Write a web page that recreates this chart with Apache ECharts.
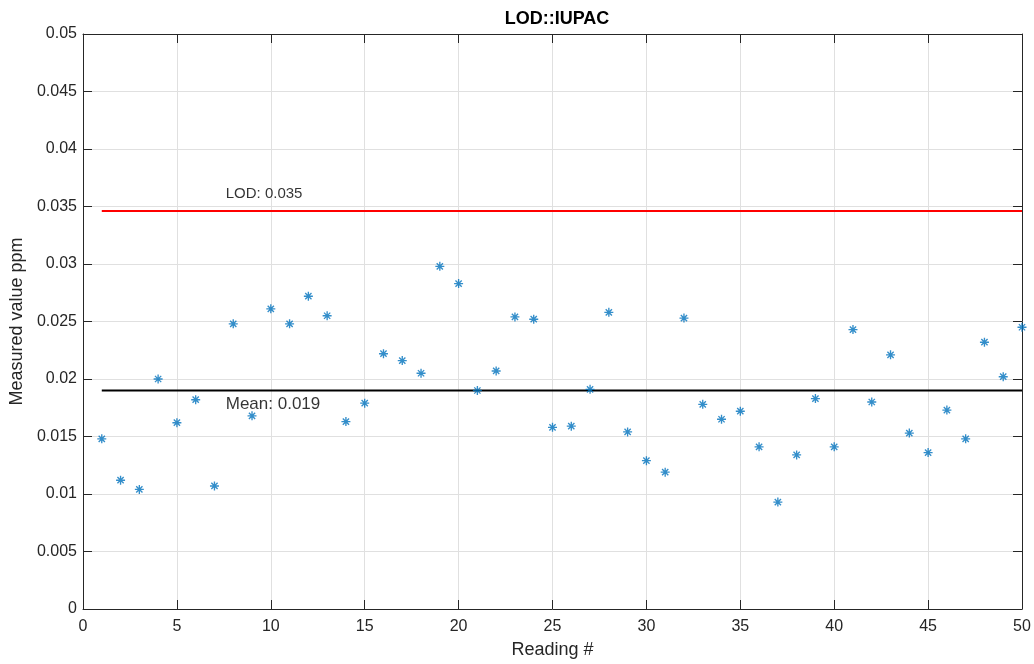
<!DOCTYPE html>
<html>
<head>
<meta charset="utf-8">
<script src="https://cdn.jsdelivr.net/npm/echarts@6/dist/echarts.min.js"></script>
<style>
  html, body { margin: 0; padding: 0; background: #fff; }
  #chart { width: 1034px; height: 664px; }
</style>
</head>
<body>
<div id="chart"></div>
<script>
// Reading numbers and measured values (ppm)
const readings = [1,2,3,4,5,6,7,8,9,10,11,12,13,14,15,16,17,18,19,20,21,22,23,24,25,
  26,27,28,29,30,31,32,33,34,35,36,37,38,39,40,41,42,43,44,45,46,47,48,49,50];
const measured = [0.0148,0.0112,0.0104,0.0200,0.0162,0.0182,0.0107,0.0248,0.0168,0.0261,
  0.0248,0.0272,0.0255,0.0163,0.0179,0.0222,0.0216,0.0205,0.0298,0.0283,
  0.0190,0.0207,0.0254,0.0252,0.0158,0.0159,0.0191,0.0258,0.0154,0.0129,
  0.0119,0.0253,0.0178,0.0165,0.0172,0.0141,0.0093,0.0134,0.0183,0.0141,
  0.0243,0.0180,0.0221,0.0153,0.0136,0.0173,0.0148,0.0232,0.0202,0.0245];
const meanValue = 0.0190;
const lodValue = 0.0346;
const xTicks = [0,5,10,15,20,25,30,35,40,45,50];
const yTicks = [0,0.005,0.01,0.015,0.02,0.025,0.03,0.035,0.04,0.045,0.05];

const font = 'Liberation Sans, Arial, Helvetica, sans-serif';
const ink = '#262626';
// '*' marker: horizontal, vertical and two diagonal bars
const asterisk = 'path://M0,8.5L20,8.5L20,11.5L0,11.5Z M8.5,0L11.5,0L11.5,20L8.5,20Z ' +
  'M2,4.1L4.1,2L18,15.9L15.9,18Z M15.9,2L18,4.1L4.1,18L2,15.9Z';

const first = readings[0], last = readings[readings.length - 1];
const tickFmt = v => String(+(+v).toFixed(3));

const chart = echarts.init(document.getElementById('chart'), null, { renderer: 'canvas' });
const gridLine = { show: true, lineStyle: { color: '#e0e0e0', width: 1 } };
const axisLine = { show: true, onZero: false, lineStyle: { color: ink, width: 1 } };
const tick = { show: true, inside: true, length: 9, lineStyle: { color: ink } };

chart.setOption({
  animation: false,
  backgroundColor: '#ffffff',
  title: {
    text: 'LOD::IUPAC', left: 552, top: 5, textAlign: 'center',
    textStyle: { fontFamily: font, fontSize: 18, fontWeight: 'bold', color: '#000' }
  },
  grid: { left: 83, top: 34, width: 939, height: 577, containLabel: false },
  xAxis: [{
    type: 'value', min: xTicks[0], max: xTicks[xTicks.length - 1], interval: 5,
    name: 'Reading #', nameLocation: 'middle', nameGap: 32,
    nameTextStyle: { fontFamily: font, fontSize: 18, color: ink },
    axisLine, axisTick: tick, splitLine: gridLine,
    axisLabel: { fontFamily: font, fontSize: 16, color: ink, margin: 10, formatter: tickFmt }
  }, {
    type: 'value', position: 'top', min: xTicks[0], max: xTicks[xTicks.length - 1], interval: 5,
    axisLine, axisTick: tick, splitLine: { show: false }, axisLabel: { show: false }
  }],
  yAxis: [{
    type: 'value', min: yTicks[0], max: yTicks[yTicks.length - 1], interval: 0.005,
    name: 'Measured value ppm', nameLocation: 'middle', nameGap: 54, nameRotate: 90,
    nameTextStyle: { fontFamily: font, fontSize: 18, color: ink },
    axisLine, axisTick: tick, splitLine: gridLine,
    axisLabel: { fontFamily: font, fontSize: 16, color: ink, margin: 6, formatter: tickFmt }
  }, {
    type: 'value', position: 'right', min: yTicks[0], max: yTicks[yTicks.length - 1], interval: 0.005,
    axisLine, axisTick: tick, splitLine: { show: false }, axisLabel: { show: false }
  }],
  series: [
    {
      name: 'Measured', type: 'scatter',
      data: readings.map((r, i) => [r, measured[i]]),
      symbol: asterisk, symbolSize: 9,
      itemStyle: { color: '#0072BD' }, z: 5
    },
    {
      name: 'LOD', type: 'line', data: [[first, lodValue], [last, lodValue]],
      symbol: 'none', lineStyle: { color: '#ff0000', width: 2 }, z: 3
    },
    {
      name: 'Mean', type: 'line', data: [[first, meanValue], [last, meanValue]],
      symbol: 'none', lineStyle: { color: '#000000', width: 2 }, z: 3
    },
    {
      name: 'Annotations', type: 'scatter', symbolSize: 0, silent: true, z: 6,
      data: [
        { value: [7.6, 0.0361], label: { formatter: 'LOD: ' + lodValue.toFixed(3), fontSize: 15 } },
        { value: [7.6, 0.0178], label: { formatter: 'Mean: ' + meanValue.toFixed(3), fontSize: 17 } }
      ],
      label: { show: true, position: 'right', distance: 0, fontFamily: font, color: '#000' }
    }
  ]
});
</script>
</body>
</html>
